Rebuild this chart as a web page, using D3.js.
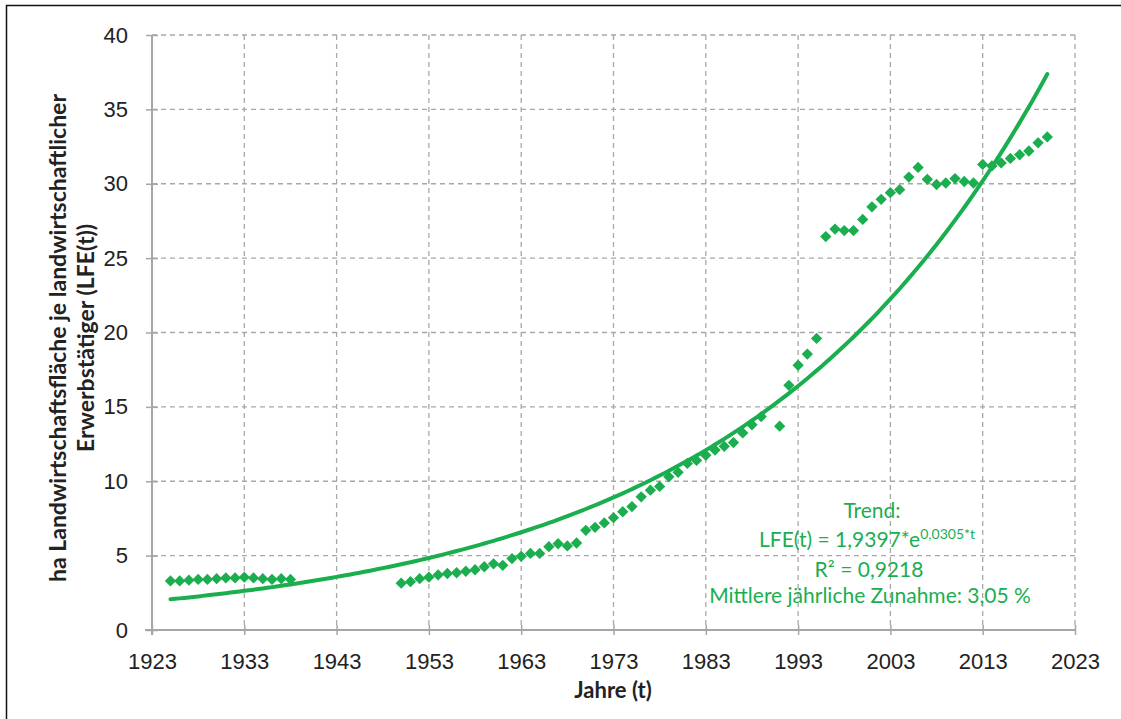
<!DOCTYPE html>
<html>
<head>
<meta charset="utf-8">
<script src="https://cdn.jsdelivr.net/npm/d3@7"></script>
<style>
  body { margin: 0; background: #fff; }
  svg { font-family: Lato, "Open Sans", sans-serif; }
</style>
</head>
<body>
<div class="container"></div>
<script>
// early series 1925-1938
const yearsEarly = [1925, 1926, 1927, 1928, 1929, 1930, 1931, 1932, 1933, 1934, 1935, 1936, 1937, 1938]
const valuesEarly = [3.3, 3.3, 3.35, 3.4, 3.4, 3.45, 3.5, 3.5, 3.55, 3.5, 3.45, 3.4, 3.45, 3.4]

// later series 1950-2020 (1990 missing)
const yearsLate = [1950, 1951, 1952, 1953, 1954, 1955, 1956, 1957, 1958, 1959,
  1960, 1961, 1962, 1963, 1964, 1965, 1966, 1967, 1968, 1969,
  1970, 1971, 1972, 1973, 1974, 1975, 1976, 1977, 1978, 1979,
  1980, 1981, 1982, 1983, 1984, 1985, 1986, 1987, 1988, 1989,
  1991, 1992, 1993, 1994, 1995, 1996, 1997, 1998, 1999,
  2000, 2001, 2002, 2003, 2004, 2005, 2006, 2007, 2008, 2009,
  2010, 2011, 2012, 2013, 2014, 2015, 2016, 2017, 2018, 2019, 2020]
const valuesLate = [3.15, 3.25, 3.45, 3.55, 3.7, 3.8, 3.85, 3.95, 4.05, 4.25,
  4.45, 4.35, 4.8, 4.95, 5.15, 5.15, 5.6, 5.8, 5.65, 5.85,
  6.7, 6.9, 7.2, 7.55, 7.95, 8.3, 8.95, 9.4, 9.65, 10.3,
  10.6, 11.2, 11.4, 11.75, 12.1, 12.35, 12.6, 13.25, 13.8, 14.35,
  13.7, 16.45, 17.8, 18.55, 19.6, 26.45, 26.95, 26.85, 26.85,
  27.6, 28.45, 28.95, 29.4, 29.6, 30.45, 31.1, 30.3, 29.95, 30.05,
  30.35, 30.15, 30.05, 31.3, 31.2, 31.4, 31.7, 31.95, 32.2, 32.75, 33.15]

// trend as printed in the chart: LFE(t) = a * e^(b*t), t = year - 1923
const trendA = 1.9397
const trendB = 0.0305
const trendStart = 1925
const trendEnd = 2020
const trendOrigin = 1923

const xTicks = [1923, 1933, 1943, 1953, 1963, 1973, 1983, 1993, 2003, 2013, 2023]
const yTicks = [0, 5, 10, 15, 20, 25, 30, 35, 40]

const w = 1121
const h = 719
const plotLeft = 152, plotRight = 1075, plotTop = 35, plotBottom = 630
const green = "#1bae4f"

const svg = d3.select(".container")
  .append("svg")
  .attr("width", w)
  .attr("height", h)

// frame
svg.append("rect")
  .attr("x", 6.5).attr("y", 5.5)
  .attr("width", w).attr("height", h)
  .attr("fill", "none")
  .attr("stroke", "#111")
  .attr("stroke-width", 1.5)

const xScale = d3.scaleLinear().domain([1923, 2023]).range([plotLeft, plotRight])
const yScale = d3.scaleLinear().domain([0, 40]).range([plotBottom, plotTop])

// gridlines
svg.append("g")
  .selectAll("line")
  .data(yTicks.slice(1))
  .enter()
  .append("line")
  .attr("x1", plotLeft).attr("x2", plotRight)
  .attr("y1", d => yScale(d)).attr("y2", d => yScale(d))
  .attr("stroke", "#a8a8a8")
  .attr("stroke-width", 1.3)
  .attr("stroke-dasharray", "5,4")

svg.append("g")
  .selectAll("line")
  .data(xTicks.slice(1))
  .enter()
  .append("line")
  .attr("x1", d => xScale(d)).attr("x2", d => xScale(d))
  .attr("y1", plotTop).attr("y2", plotBottom)
  .attr("stroke", "#a8a8a8")
  .attr("stroke-width", 1.3)
  .attr("stroke-dasharray", "5,4")

// axes
const xAxis = d3.axisBottom(xScale).tickValues(xTicks).tickFormat(d3.format("d")).tickSizeInner(5).tickSizeOuter(0).tickPadding(18)
const yAxis = d3.axisLeft(yScale).tickValues(yTicks).tickSizeInner(7).tickSizeOuter(0).tickPadding(17)

const gx = svg.append("g")
  .attr("transform", "translate(0," + plotBottom + ")")
  .call(xAxis)
const gy = svg.append("g")
  .attr("transform", "translate(" + plotLeft + ",0)")
  .call(yAxis)

;[gx, gy].forEach(g => {
  g.select(".domain").attr("stroke", "#a6a6a6").attr("stroke-width", 2)
  g.selectAll(".tick line").attr("stroke", "#a6a6a6").attr("stroke-width", 1.5)
  g.selectAll(".tick text").attr("fill", "#222").style("font-size", "22px")
})
// ticks cross the axis
gx.selectAll(".tick line").attr("y1", -5)
gy.selectAll(".tick line").attr("x1", 6).attr("x2", -6)
gx.select(".domain").attr("d", "M" + (plotLeft - 7) + ",0H" + plotRight)
gy.select(".domain").attr("d", "M0," + plotTop + "V" + (plotBottom + 5))

// trend line
const trendYears = d3.range(trendStart, trendEnd + 0.01, 0.5)
const line = d3.line()
  .x(d => xScale(d))
  .y(d => yScale(trendA * Math.exp(trendB * (d - trendOrigin))))

svg.append("path")
  .datum(trendYears)
  .attr("d", line)
  .attr("fill", "none")
  .attr("stroke", green)
  .attr("stroke-width", 4)
  .attr("stroke-linecap", "round")

// points
const points = yearsEarly.map((y, i) => [y, valuesEarly[i]])
  .concat(yearsLate.map((y, i) => [y, valuesLate[i]]))
const diamond = d3.symbol().type(d3.symbolSquare).size(64)

svg.append("g")
  .selectAll("path")
  .data(points)
  .enter()
  .append("path")
  .attr("d", diamond)
  .attr("transform", d => "translate(" + xScale(d[0]) + "," + yScale(d[1]) + ") rotate(45)")
  .attr("fill", green)

// axis titles
svg.append("text")
  .attr("x", 613)
  .attr("y", 698)
  .style("text-anchor", "middle")
  .style("font-size", "22px")
  .style("font-weight", "bold")
  .attr("fill", "#222")
  .text("Jahre (t)")

const yTitle = svg.append("text")
  .attr("transform", "translate(0,338) rotate(-90)")
  .style("text-anchor", "middle")
  .style("font-size", "23px")
  .style("font-weight", "bold")
  .attr("fill", "#222")
yTitle.append("tspan").attr("x", 0).attr("y", 66).text("ha Landwirtschaftsfläche je landwirtschaftlicher")
yTitle.append("tspan").attr("x", 0).attr("y", 94).text("Erwerbstätiger (LFE(t))")

// trend annotation
const note = svg.append("g")
  .attr("fill", green)
  .style("font-size", "21px")
  .style("text-anchor", "middle")

note.append("text").attr("x", 872).attr("y", 518).text("Trend:")
const eq = note.append("text").attr("x", 867).attr("y", 547)
eq.append("tspan").text("LFE(t) = 1,9397*e")
eq.append("tspan").attr("dy", -8).style("font-size", "14px").text("0,0305*t")
note.append("text").attr("x", 869).attr("y", 577).text("R² = 0,9218")
note.append("text").attr("x", 870).attr("y", 603).text("Mittlere jährliche Zunahme: 3,05 %")
</script>
</body>
</html>
